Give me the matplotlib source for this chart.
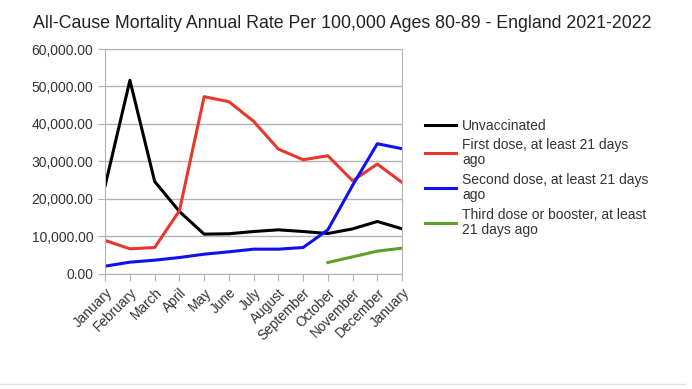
import matplotlib.pyplot as plt
from matplotlib.ticker import FuncFormatter

months = ["January", "February", "March", "April", "May", "June", "July",
          "August", "September", "October", "November", "December", "January"]

unvaccinated = [23600, 51650, 24660, 16650, 10600, 10700, 11300,
                11750, 11300, 10770, 12000, 13980, 12020]
first_dose = [8900, 6680, 7030, 16830, 47280, 45950, 40700,
              33300, 30450, 31520, 24840, 29300, 24400]
second_dose = [2050, 3120, 3650, 4360, 5250, 5880, 6590,
               6590, 7030, 11750, 23600, 34730, 33390]
# third dose only starts in October
third_dose = [3030, 4540, 6060, 6860]

labels = ["Unvaccinated",
          "First dose, at least 21 days\nago",
          "Second dose, at least 21 days\nago",
          "Third dose or booster, at least\n21 days ago"]

plt.rcParams['font.family'] = ['Liberation Sans', 'DejaVu Sans']

fig = plt.figure(figsize=(6.92, 3.89), dpi=100)
ax = fig.add_axes([0.152, 0.296, 0.429, 0.578])

x = list(range(len(months)))
ax.plot(x, unvaccinated, color="#000000", lw=2.2, label=labels[0])
ax.plot(x, first_dose, color="#e8372c", lw=2.2, label=labels[1])
ax.plot(x, second_dose, color="#1010f0", lw=2.2, label=labels[2])
ax.plot(x[9:], third_dose, color="#5ea02a", lw=2.2, label=labels[3])

ax.set_xlim(0, 12)
ax.set_ylim(0, 60000)
ax.set_yticks(range(0, 60001, 10000))
ax.yaxis.set_major_formatter(FuncFormatter(lambda v, p: "{:,.2f}".format(v)))
ax.set_xticks(x)
ax.set_xticklabels(months, rotation=45, ha="right", rotation_mode="anchor")

ax.grid(axis="y", color="#b3b3b3", lw=1)
ax.set_axisbelow(True)
for s in ax.spines.values():
    s.set_color("#b3b3b3")
ax.tick_params(axis="both", colors="#b3b3b3", labelcolor="#333333",
               labelsize=9.8, length=5)
ax.tick_params(axis="y", labelsize=10)

fig.text(0.047, 0.927, "All-Cause Mortality Annual Rate Per 100,000 Ages 80-89 - England 2021-2022",
         fontsize=12.8, color="#222222")

leg = ax.legend(loc="upper left", bbox_to_anchor=(1.06, 0.715), frameon=False,
                fontsize=10, handlelength=2.2, handletextpad=0.45,
                labelspacing=0.4, borderaxespad=0, labelcolor="#333333")
for t in leg.get_texts():
    t.set_linespacing(1.1)

# faint frame line along the bottom like the screenshot
fig.add_artist(plt.Line2D([0, 0.99], [0.012, 0.012], color="#dde3ea", lw=1))

fig.savefig("out.png", dpi=100)
